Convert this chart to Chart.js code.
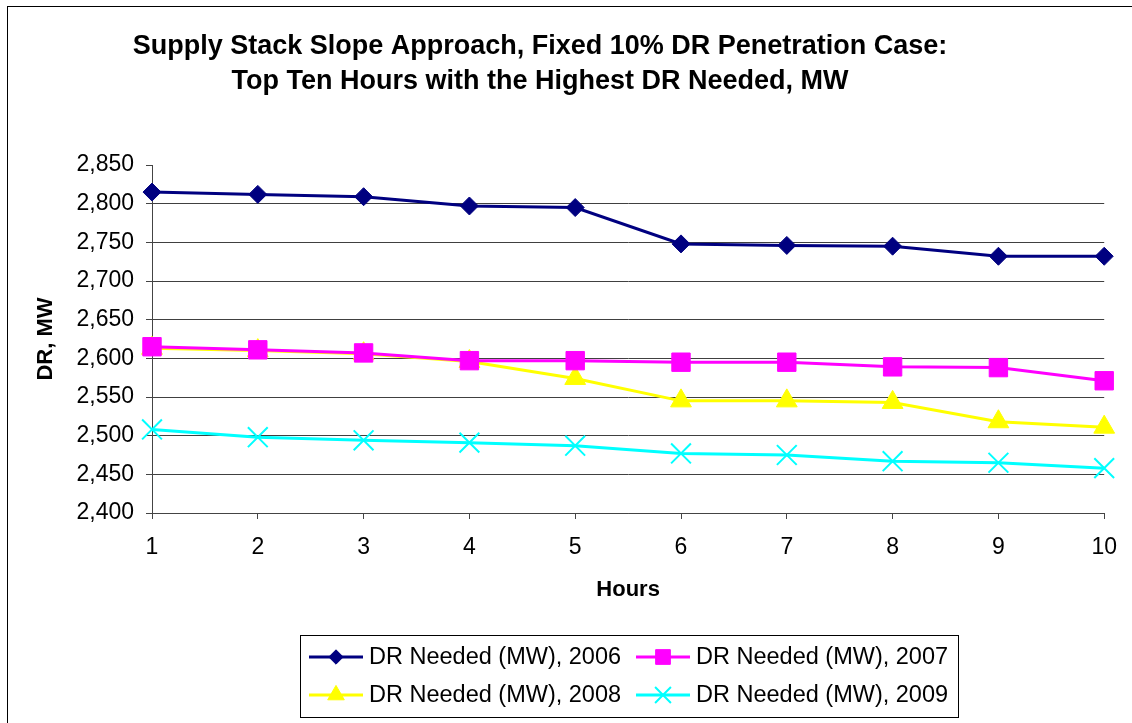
<!DOCTYPE html>
<html>
<head>
<meta charset="utf-8">
<style>
  html, body { margin: 0; padding: 0; background: #fff; }
  #wrap { position: relative; width: 1132px; height: 723px; }
</style>
<script src="https://cdn.jsdelivr.net/npm/chart.js@4.4.1/dist/chart.umd.min.js"></script>
</head>
<body>
<div id="wrap"><canvas id="drChart" width="1132" height="723"></canvas></div>
<script>
const hours = ["1", "2", "3", "4", "5", "6", "7", "8", "9", "10"];
const dr2006 = [2815, 2812, 2809, 2797, 2795, 2748, 2746, 2745, 2732, 2732];
const dr2007 = [2615, 2611, 2607, 2597, 2597, 2595, 2595, 2589, 2588, 2571];
const dr2008 = [2613, 2610, 2606, 2596, 2574, 2545, 2545, 2543, 2518, 2511];
const dr2009 = [2508, 2498, 2494, 2491, 2487, 2477, 2475, 2467, 2465, 2458];
const titleLines = ["Supply Stack Slope Approach, Fixed 10% DR Penetration Case:", "Top Ten Hours with the Highest DR Needed, MW"];
const FONT = "Arial, 'Liberation Sans', sans-serif";

// series style, also used by the legend
const series = [
    { label: "DR Needed (MW), 2006", data: dr2006, color: "#000080", style: "rectRot", radius: 9, bw: 1 },
    { label: "DR Needed (MW), 2007", data: dr2007, color: "#FF00FF", style: "rect", radius: 13, bw: 1 },
    { label: "DR Needed (MW), 2008", data: dr2008, color: "#FFFF00", style: "triangle", radius: 12, bw: 1 },
    { label: "DR Needed (MW), 2009", data: dr2009, color: "#00FFFF", style: "crossRot", radius: 14, bw: 2 },
];

// titre + cadre + légende encadrée
const decorPlugin = {
    id: "decor",
    afterDraw(chart) {
        const ctx = chart.ctx;
        ctx.save();
        ctx.strokeStyle = "#000";
        ctx.lineWidth = 1;
        ctx.strokeRect(7.5, 6.5, 2000, 2000);

        ctx.fillStyle = "#000";
        ctx.font = "bold 27px " + FONT;
        ctx.textAlign = "center";
        ctx.textBaseline = "middle";
        ctx.fillText(titleLines[0], 540, 47);
        ctx.fillText(titleLines[1], 540, 82);

        // legend
        ctx.strokeStyle = "#000";
        ctx.strokeRect(300.5, 635.5, 658, 82);
        const cols = [309, 636];
        const rows = [657, 695];
        ctx.font = "23.5px " + FONT;
        ctx.textAlign = "left";
        series.forEach((s, i) => {
            const x = cols[i % 2], y = rows[Math.floor(i / 2)];
            ctx.strokeStyle = s.color;
            ctx.lineWidth = 3;
            ctx.beginPath();
            ctx.moveTo(x, y);
            ctx.lineTo(x + 54, y);
            ctx.stroke();
            ctx.fillStyle = s.color;
            ctx.lineWidth = s.bw;
            Chart.helpers.drawPoint(ctx, { pointStyle: s.style, radius: s.radius * 0.8, borderWidth: s.bw }, x + 27, y);
            ctx.fillStyle = "#000";
            ctx.fillText(s.label, x + 60, y + 1);
        });
        ctx.restore();
    },
};

const drChart = new Chart(document.getElementById("drChart").getContext("2d"), {
    type: "line",
    data: {
        labels: hours,
        datasets: series.map(s => ({
            label: s.label,
            data: s.data,
            borderColor: s.color,
            backgroundColor: s.color,
            borderWidth: 3,
            pointStyle: s.style,
            pointRadius: s.radius,
            pointHoverRadius: s.radius,
            pointBorderWidth: s.bw,
            pointBorderColor: s.color,
            pointBackgroundColor: s.color,
            tension: 0,
            clip: false,
        })),
    },
    options: {
        responsive: false,
        animation: false,
        events: [],
        layout: { padding: { left: 33, top: 165, right: 27, bottom: 120 } },
        plugins: { legend: { display: false }, title: { display: false }, tooltip: { enabled: false } },
        scales: {
            x: {
                offset: false,
                grid: { drawOnChartArea: false, drawTicks: true, tickLength: 6, tickColor: "#444" },
                border: { color: "#444", width: 1 },
                ticks: { color: "#000", font: { family: FONT, size: 23 }, padding: 15, maxRotation: 0 },
                title: { display: true, text: "Hours", color: "#000", font: { family: FONT, size: 22, weight: "bold", lineHeight: 1.2 }, padding: 0 },
                afterFit: scale => { scale.height = 90; },
            },
            y: {
                min: 2400,
                max: 2850,
                grid: {
                    color: c => (c.tick && c.tick.value === 2850 ? "rgba(0,0,0,0)" : "#404040"),
                    tickColor: "#444",
                    tickLength: 6,
                },
                border: { color: "#444", width: 1 },
                ticks: {
                    stepSize: 50,
                    color: "#000",
                    font: { family: FONT, size: 23 },
                    padding: 12,
                    callback: v => v.toLocaleString("en-US"),
                },
                title: { display: true, text: "DR, MW", color: "#000", font: { family: FONT, size: 22, weight: "bold", lineHeight: 1.2 }, padding: 0 },
                afterFit: scale => { scale.width = 119; },
            },
        },
    },
    plugins: [decorPlugin],
});
</script>
</body>
</html>
